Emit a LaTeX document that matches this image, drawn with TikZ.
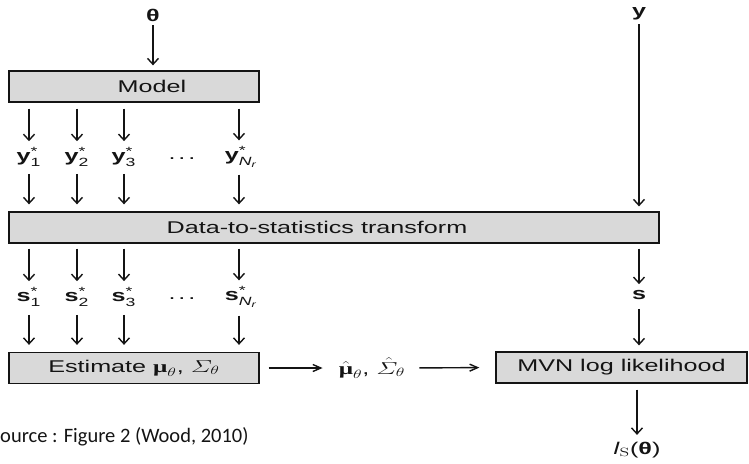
\documentclass[tikz,border=0pt]{standalone}
\usepackage{amsmath}
\usepackage[no-math]{fontspec}
\setmainfont{Liberation Sans}
\newfontfamily\srcfont{Carlito}
\newfontfamily\greekserif{Liberation Serif}
\usetikzlibrary{arrows.meta}
\newcommand{\wideTxt}[1]{\scalebox{1.48}[1]{#1}}
\newcommand{\boldmu}{\text{\greekserif\bfseries μ}}
\definecolor{boxfill}{HTML}{D9D9D9}
\definecolor{ink}{HTML}{141414}
\begin{document}
\begin{tikzpicture}[x=1pt,y=-1pt,
  font=\fontsize{17}{20}\selectfont,
  lbl/.style={inner sep=0pt, text=ink},
  box/.style={draw=ink, fill=boxfill, line width=1.3pt, minimum height=31pt, inner sep=0pt, text=ink},
  varr/.style={draw=ink, line width=1.4pt, -{Straight Barb[length=6pt,width=11pt,line width=1.4pt]}},
  harr/.style={draw=ink, line width=1.4pt, -{Straight Barb[length=8pt,width=7pt,line width=1.4pt]}}]
\useasboundingbox (0,0) rectangle (749,463);

% inputs
\node[lbl] (theta) at (153,15) {\wideTxt{\bfseries θ}};
\node[lbl] (yobs) at (639,14) {\wideTxt{\bfseries y}};

% simulator
\node[box, minimum width=250pt] (model) at (134,86.5) {};
\node[lbl] (modeltxt) at (152,86.5) {\wideTxt{Model}};
\draw[varr, shorten <=4pt, shorten >=5pt] (theta) -- (theta |- model.north);

% simulated data sets
\node[lbl] (y1) at (29,157) {\wideTxt{$\textbf{y}^{\textnormal{*}}_{\textnormal{1}}$}};
\node[lbl] (y2) at (77,157) {\wideTxt{$\textbf{y}^{\textnormal{*}}_{\textnormal{2}}$}};
\node[lbl] (y3) at (124,157) {\wideTxt{$\textbf{y}^{\textnormal{*}}_{\textnormal{3}}$}};
\node[lbl] (ydots) at (182,159) {\wideTxt{.\hspace{2pt}.\hspace{2pt}.}};
\node[lbl] (yN) at (241,157) {\wideTxt{$\textbf{y}^{\textnormal{*}}_{\textit{N}_{\textit{r}}}$}};

% summary statistics transform
\node[box, minimum width=650pt] (transform) at (334,227.5) {};
\node[lbl] (transformtxt) at (317,227.5) {\wideTxt{Data-to-statistics transform}};

\foreach \n/\c in {y1/29,y2/77,y3/124,yN/239}{
  \coordinate (top-\n) at (\c,102);
  \coordinate (bot-\n) at (\c,157);
}

\draw[varr, shorten <=6pt, shorten >=6pt] (model.south -| top-y1) -- (top-y1 |- y1.north);
\draw[varr, shorten <=6pt, shorten >=6pt] (model.south -| top-y2) -- (top-y2 |- y2.north);
\draw[varr, shorten <=6pt, shorten >=6pt] (model.south -| top-y3) -- (top-y3 |- y3.north);
\draw[varr, shorten <=6pt, shorten >=6pt] (model.south -| top-yN) -- (top-yN |- yN.north);

\draw[varr, shorten <=7pt, shorten >=7pt] (bot-y1 |- y1.south) -- (bot-y1 |- transform.north);
\draw[varr, shorten <=7pt, shorten >=7pt] (bot-y2 |- y2.south) -- (bot-y2 |- transform.north);
\draw[varr, shorten <=7pt, shorten >=7pt] (bot-y3 |- y3.south) -- (bot-y3 |- transform.north);
\draw[varr, shorten <=7pt, shorten >=7pt] (bot-yN |- yN.south) -- (bot-yN |- transform.north);

\draw[varr, shorten <=4pt, shorten >=5pt] (yobs) -- (yobs |- transform.north);

% simulated statistics
\node[lbl] (s1) at (29,297) {\wideTxt{$\textbf{s}^{\textnormal{*}}_{\textnormal{1}}$}};
\node[lbl] (s2) at (77,297) {\wideTxt{$\textbf{s}^{\textnormal{*}}_{\textnormal{2}}$}};
\node[lbl] (s3) at (124,297) {\wideTxt{$\textbf{s}^{\textnormal{*}}_{\textnormal{3}}$}};
\node[lbl] (sdots) at (182,299) {\wideTxt{.\hspace{2pt}.\hspace{2pt}.}};
\node[lbl] (sN) at (241,297) {\wideTxt{$\textbf{s}^{\textnormal{*}}_{\textit{N}_{\textit{r}}}$}};
\node[lbl] (sobs) at (639,295) {\wideTxt{\bfseries s}};

\foreach \n/\c in {s1/29,s2/77,s3/124,sN/239}{
  \coordinate (col-\n) at (\c,297);
}

% estimation and likelihood
\node[box, minimum width=250pt] (estimate) at (134,368) {\wideTxt{Estimate $\boldmu_{\theta}$, $\varSigma_{\theta}$}};
\node[lbl] (est) at (372,368) {\wideTxt{$\hat{\boldmu}_{\theta}$, $\hat{\varSigma}_{\theta}$}};
\node[box, minimum width=251pt] (mvn) at (621.5,367.5) {\wideTxt{MVN log likelihood}};
\node[lbl] (loglik) at (637,450) {\wideTxt{\textit{l}$_{\mathrm{S}}$(\textbf{θ})}};

\draw[varr, shorten <=5pt, shorten >=6pt] (transform.south -| col-s1) -- (col-s1 |- s1.north);
\draw[varr, shorten <=5pt, shorten >=6pt] (transform.south -| col-s2) -- (col-s2 |- s2.north);
\draw[varr, shorten <=5pt, shorten >=6pt] (transform.south -| col-s3) -- (col-s3 |- s3.north);
\draw[varr, shorten <=5pt, shorten >=6pt] (transform.south -| col-sN) -- (col-sN |- sN.north);
\draw[varr, shorten <=5pt, shorten >=6pt] (transform.south -| sobs) -- (sobs.north);

\draw[varr, shorten <=8pt, shorten >=7pt] (col-s1 |- s1.south) -- (col-s1 |- estimate.north);
\draw[varr, shorten <=8pt, shorten >=7pt] (col-s2 |- s2.south) -- (col-s2 |- estimate.north);
\draw[varr, shorten <=8pt, shorten >=7pt] (col-s3 |- s3.south) -- (col-s3 |- estimate.north);
\draw[varr, shorten <=8pt, shorten >=7pt] (col-sN |- sN.south) -- (col-sN |- estimate.north);
\draw[varr, shorten <=9pt, shorten >=6pt] (sobs.south) -- (sobs |- mvn.north);

\draw[harr, shorten <=9pt, shorten >=16pt] (estimate.east) -- (est.west);
\draw[harr, shorten <=14pt, shorten >=16pt] (est.east) -- (mvn.west);
\draw[varr, shorten <=6pt, shorten >=7pt] (mvn.south -| loglik) -- (loglik.north);

% citation line
\node[lbl, anchor=base west, font=\srcfont\fontsize{20.5}{24}\selectfont] (source) at (-9.4,442) {Source : Figure 2 (Wood, 2010)};
\end{tikzpicture}
\end{document}
